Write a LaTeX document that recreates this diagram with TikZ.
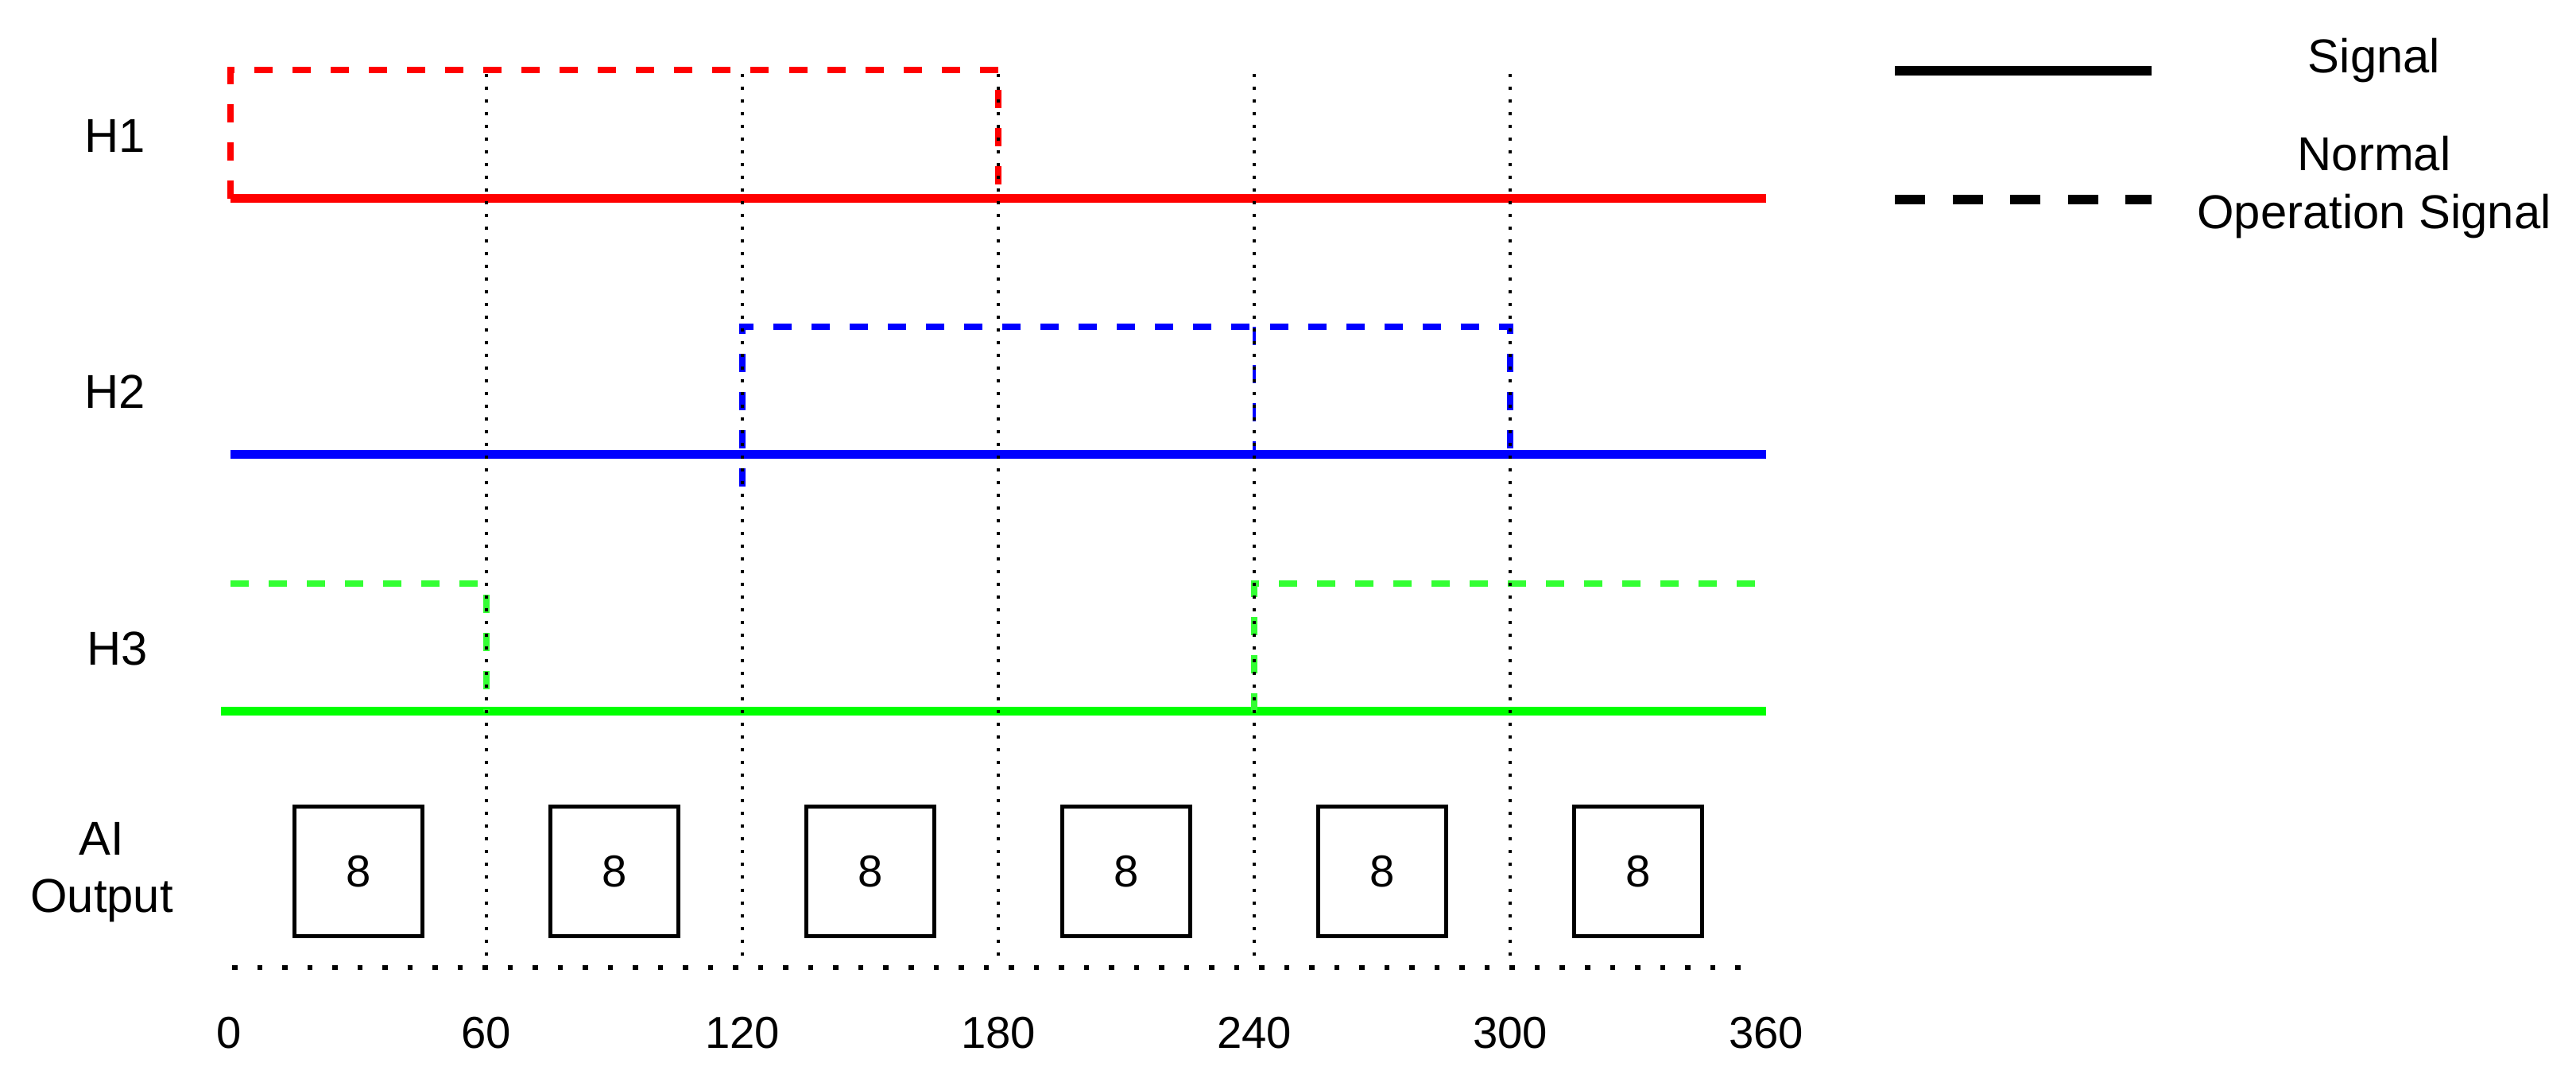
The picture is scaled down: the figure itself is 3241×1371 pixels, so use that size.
\documentclass[tikz,border=0pt]{standalone}
\usepackage{fontspec}
\setmainfont{Liberation Sans}
\definecolor{hred}{RGB}{255,0,0}
\definecolor{hblue}{RGB}{0,0,255}
\definecolor{hgreen}{RGB}{0,255,0}
\definecolor{hgreenl}{RGB}{51,255,51}
\begin{document}
\begin{tikzpicture}[x=0.01cm,y=-0.01cm,
  sig/.style={line width=0.11cm},
  nop/.style={line width=0.08cm,dash pattern={on 0.23cm off 0.25cm}},
  thinnop/.style={line width=0.04cm,dash pattern={on 0.23cm off 0.25cm}},
  griddot/.style={line width=0.04cm,dash pattern={on 0.04cm off 0.12cm}},
  axisdot/.style={line width=0.06cm,dash pattern={on 0.065cm off 0.25cm}},
  lbl/.style={font=\fontsize{17}{20.5}\selectfont,align=center,inner sep=0pt},
  num/.style={font=\fontsize{16}{19}\selectfont,inner sep=0pt,anchor=base},
  aibox/.style={draw,line width=0.05cm,minimum width=1.61cm,minimum height=1.63cm,
    inner sep=0pt,font=\fontsize{16}{19}\selectfont},
  legtxt/.style={font=\fontsize{17}{20.5}\selectfont,inner sep=0pt,anchor=base}]
\useasboundingbox (0,0) rectangle (3241,1371);
% row labels
\node[lbl] (h1) at (145,171) {H1};
\node[lbl] (h2) at (145,493) {H2};
\node[lbl] (h3) at (148,816) {H3};
\node[lbl] (ai) at (128,1097) {AI\\Output};
% H1
\draw[sig,hred] (290,250) -- (2222,250);
\draw[nop,hred] (290,250) -- (290,88) -- (1256,88) -- (1256,250);
% H2
\draw[sig,hblue] (290,572) -- (2222,572);
\draw[nop,hblue] (934,612) -- (934,411) -- (1900,411) -- (1900,572);
\draw[thinnop,hblue] (1578,411) -- (1578,572);
% H3
\draw[sig,hgreen] (278,895) -- (2222,895);
\draw[nop,hgreenl] (290,734) -- (612,734) -- (612,895);
\draw[nop,hgreenl] (1578,895) -- (1578,734) -- (2226,734);
% grid lines
\foreach \gx in {612,934,1256,1578,1900}
  \draw[griddot] (\gx,93) -- (\gx,1210);
\draw[axisdot] (292,1217) -- (2200,1217);
% AI output boxes
\node[aibox] (b1) at (451,1096) {8};
\node[aibox] (b2) at (773,1096) {8};
\node[aibox] (b3) at (1095,1096) {8};
\node[aibox] (b4) at (1417,1096) {8};
\node[aibox] (b5) at (1739,1096) {8};
\node[aibox] (b6) at (2061,1096) {8};
% axis numbers
\node[num] (t0) at (288,1319) {0};
\node[num] (t60) at (612,1319) {60};
\node[num] (t120) at (934,1319) {120};
\node[num] (t180) at (1256,1319) {180};
\node[num] (t240) at (1578,1319) {240};
\node[num] (t300) at (1900,1319) {300};
\node[num] (t360) at (2222,1319) {360};
% legend
\coordinate (ls1) at (2384,89);
\coordinate (ls2) at (2707,89);
\coordinate (ld1) at (2384,251);
\coordinate (ld2) at (2707,251);
\draw[line width=0.12cm] (ls1) -- (ls2);
\draw[line width=0.12cm,dash pattern={on 0.38cm off 0.345cm}] (ld1) -- (ld2);
\node[legtxt] (lsig) at (2987,92) {Signal};
\node[legtxt] (lnor) at (2987,215) {Normal};
\node[legtxt] (lop) at (2987,288) {Operation Signal};
\end{tikzpicture}
\end{document}
